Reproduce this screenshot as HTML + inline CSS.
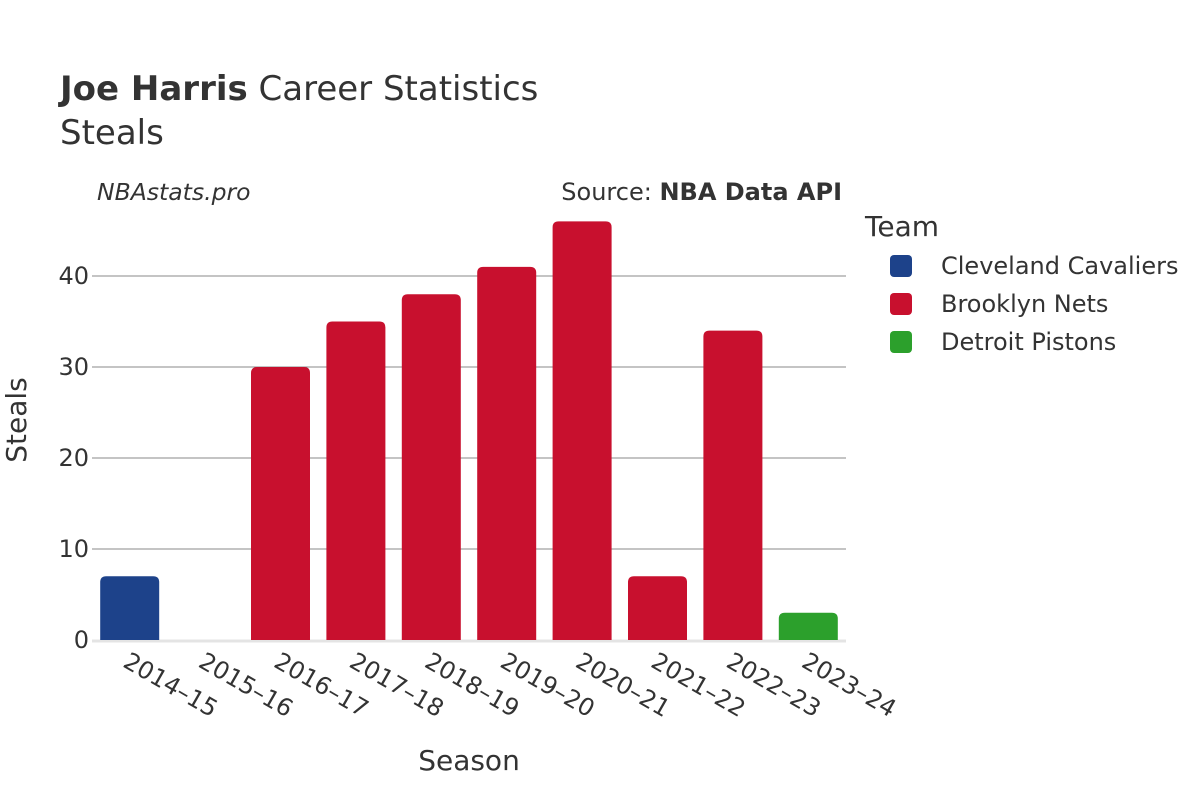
<!DOCTYPE html>
<html><head><meta charset="utf-8">
<style>
html,body{margin:0;padding:0;background:#fff;}
svg{display:block;font-family:"DejaVu Sans","Liberation Sans",sans-serif;}
</style></head>
<body>
<svg id="chart" width="1200" height="800">
  <text x="60" y="100" font-size="34" fill="#333"><tspan font-weight="bold">Joe Harris</tspan> Career Statistics</text>
  <text x="60" y="144" font-size="34" fill="#333">Steals</text>
  <text x="97" y="200" font-size="23.5" font-style="italic" fill="#333">NBAstats.pro</text>
  <text x="842" y="200" font-size="24" fill="#333" text-anchor="end">Source: <tspan font-weight="bold">NBA Data API</tspan></text>
  <g id="grid"></g>
  <g id="bars"></g>
  <g id="yticks"></g>
  <g id="xticks"></g>
  <text x="26" y="420" font-size="28" fill="#333" text-anchor="middle" transform="rotate(-90 26 420)">Steals</text>
  <text x="469" y="770" font-size="28" fill="#333" text-anchor="middle">Season</text>
  <g id="legend">
    <text x="865" y="236" font-size="28" fill="#333">Team</text>
  </g>
</svg>
<script>
const seasons = ["2014–15","2015–16","2016–17","2017–18","2018–19","2019–20","2020–21","2021–22","2022–23","2023–24"];
const steals = [7,0,30,35,38,41,46,7,34,3];
const teams = ["Cleveland Cavaliers","Brooklyn Nets","Brooklyn Nets","Brooklyn Nets","Brooklyn Nets","Brooklyn Nets","Brooklyn Nets","Brooklyn Nets","Brooklyn Nets","Detroit Pistons"];
const legendTeams = ["Cleveland Cavaliers","Brooklyn Nets","Detroit Pistons"];
const yTicks = [0,10,20,30,40];
const colors = {"Cleveland Cavaliers":"#1d428a","Brooklyn Nets":"#c8102e","Detroit Pistons":"#2ca02c"};

const NS="http://www.w3.org/2000/svg";
const x0=92,x1=846,yBase=640,pxPerUnit=9.1;
const band=(x1-x0)/seasons.length;
const xC=i=>x0+band*(i+0.5);
const y=v=>yBase-v*pxPerUnit;
function mk(tag,attrs,parent){const e=document.createElementNS(NS,tag);for(const k in attrs)e.setAttribute(k,attrs[k]);parent.appendChild(e);return e;}

const grid=document.getElementById('grid'),yt=document.getElementById('yticks');
yTicks.forEach(t=>{
  if(t>0){const l=mk('line',{x1:x0,x2:x1,y1:y(t),y2:y(t),stroke:'#8a8a8a','stroke-width':1},grid);
    
    }
  const tx=mk('text',{x:x0-3,y:y(t)+8,'font-size':24,fill:'#333','text-anchor':'end'},yt);
  tx.textContent=t;
  
  
});
const zl=mk('line',{x1:x0,x2:x1,y1:yBase+1,y2:yBase+1,stroke:'#e4e4e4','stroke-width':3},grid);



const bars=document.getElementById('bars'),xt=document.getElementById('xticks');
const bw=59,r=6;
seasons.forEach((s,i)=>{
  const v=steals[i];
  const cx=xC(i),l=cx-bw/2,top=y(v),h=yBase-top;
  if(v>0){
    const rr=Math.min(r,h);
    const d=`M${l},${yBase}V${top+rr}Q${l},${top} ${l+rr},${top}H${l+bw-rr}Q${l+bw},${top} ${l+bw},${top+rr}V${yBase}Z`;
    const p=mk('path',{d:d,fill:colors[teams[i]]},bars);
    
    
  }
  const t=mk('text',{x:cx-8,y:666,'font-size':24,fill:'#333',transform:`rotate(30 ${cx-8} 666)`},xt);
  t.textContent=s;
  
  
});

const lg=document.getElementById('legend');
legendTeams.forEach((tm,i)=>{
  const yy=266+i*38;
  const rc=mk('rect',{x:890,y:yy-11,width:22,height:22,rx:4,fill:colors[tm]},lg);
  
  
  const tx=mk('text',{x:941,y:yy+8,'font-size':24,fill:'#333'},lg);
  tx.textContent=tm;
  
  
});
</script>
</body></html>
